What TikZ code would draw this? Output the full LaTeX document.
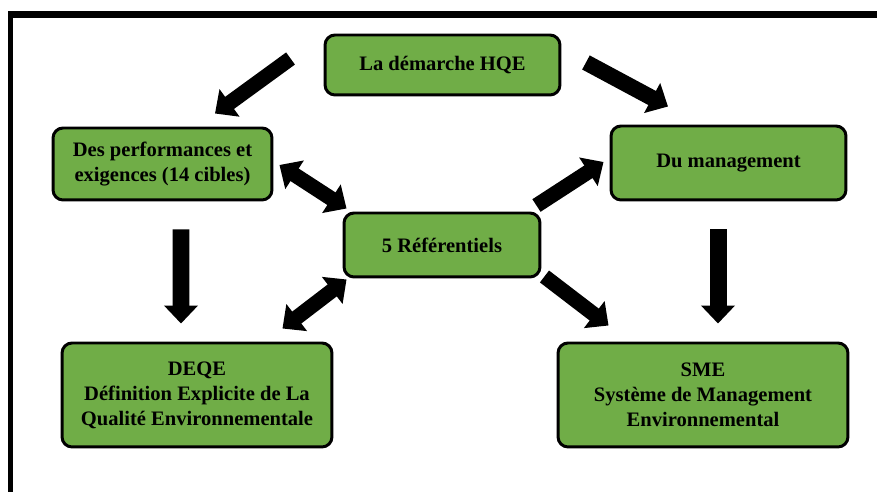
\documentclass[tikz,border=0pt]{standalone}
\usepackage{fontspec}
\setmainfont{Liberation Serif}
\usetikzlibrary{arrows.meta}
\definecolor{hqegreen}{RGB}{112,173,71}

\begin{document}
\begin{tikzpicture}[
  x=0.02cm, y=-0.02cm,
  block/.style={rectangle, draw, line width=1.7pt, fill=hqegreen, align=center, rounded corners=0.2cm, font=\bfseries\fontsize{11.7}{14.2}\selectfont},
  line/.style={draw, line width=0.3cm, -{Triangle[width=0.66cm, length=0.36cm]}},
  vline/.style={line, line width=0.34cm},
  dline/.style={draw, line width=0.3cm, {Triangle[width=0.66cm, length=0.36cm]}-{Triangle[width=0.66cm, length=0.36cm]}}
]
    \useasboundingbox (0,0) rectangle (877,492);
    \fill (8,11) rectangle (877,18);
    \fill (8,11) rectangle (13,492);

    \node [block, minimum width=4.7cm, minimum height=1.2cm] (hqe) at (442.5,65) {La démarche HQE};
    \node [block, minimum width=4.38cm, minimum height=1.44cm] (perf) at (162.5,164) {Des performances et\\exigences (14 cibles)};
    \node [block, minimum width=4.7cm, minimum height=1.48cm] (mgmt) at (728.5,163) {Du management};
    \node [block, minimum width=3.92cm, minimum height=1.28cm] (ref) at (442,245) {5 Référentiels};
    \node [block, minimum width=5.4cm, minimum height=2.08cm] (deqe) at (197,395) {DEQE\\Définition Explicite de La\\Qualité Environnementale};
    \node [block, minimum width=5.8cm, minimum height=2.08cm] (sme) at (703,395) {SME\\Système de Management\\Environnemental};

    \path [line] ([shift={(-33,-6.5)}]hqe.west) -- ([shift={(52.5,-13)}]perf.north);
    \path [line, line width=0.32cm] ([shift={(24.5,-2.5)}]hqe.east) -- ([shift={(-60.5,-18)}]mgmt.north);
    \path [vline] ([shift={(18.5,28)}]perf.south) -- ([shift={(-16,-18)}]deqe.north);
    \path [vline] ([shift={(-10.5,28)}]mgmt.south) -- ([shift={(15,-18)}]sme.north);
    \path [dline] ([shift={(6,1)}]perf.east) -- ([shift={(4,-3)}]ref.north west);
    \path [dline] ([shift={(4,1)}]ref.south west) -- ([shift={(-51,-13)}]deqe.north east);
    \path [line] ([shift={(-5,-6)}]ref.north east) -- ([shift={(-6,-1)}]mgmt.west);
    \path [line] ([shift={(3,-2)}]ref.south east) -- ([shift={(52,-16)}]sme.north west);
\end{tikzpicture}
\end{document}
